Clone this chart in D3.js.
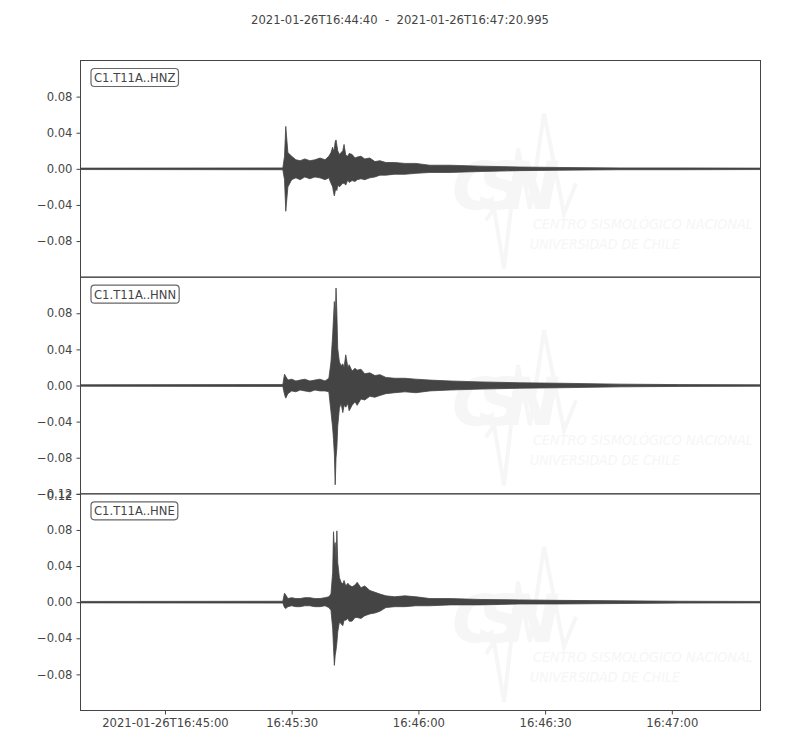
<!DOCTYPE html>
<html>
<head>
<meta charset="utf-8">
<script src="https://cdn.jsdelivr.net/npm/d3@7"></script>
<style>
  body { margin: 0; background: #fff; }
  text { font-family: "DejaVu Sans", sans-serif; }
</style>
</head>
<body>
<div id="chart"></div>
<script>
// envelope of each trace (max / min per time step), seconds after 16:44:40
var startTime = new Date(Date.UTC(2021, 0, 26, 16, 44, 40));
var endSec = 160.995;
var title = "2021-01-26T16:44:40  -  2021-01-26T16:47:20.995";
var channels = ["C1.T11A..HNZ", "C1.T11A..HNN", "C1.T11A..HNE"];

var times = [0, 47.9, 48.3, 48.6, 49.1, 50.0, 51.0, 52.0, 53.1, 54.3, 55.5, 56.7, 57.9, 58.8,
  59.3, 59.7, 59.9, 60.1, 60.3, 60.5, 60.7, 60.9, 61.3, 61.7, 62.1, 62.4, 62.8, 63.3, 63.6,
  64.3, 65.0, 65.5, 66.4, 67.3, 68.5, 69.7, 70.9, 72.3, 74.4, 76.8, 79.4, 82.7, 87.5, 94.6,
  104, 113.5, 127.7, 141.9, 160.995];

var hnzMax = [0.0008, 0.001, 0.014, 0.047, 0.018, 0.014, 0.010, 0.009, 0.011, 0.009, 0.010, 0.012, 0.010, 0.014,
  0.018, 0.024, 0.020, 0.022, 0.030, 0.032, 0.026, 0.020, 0.016, 0.018, 0.020, 0.027, 0.015, 0.014, 0.017,
  0.016, 0.012, 0.013, 0.014, 0.011, 0.012, 0.008, 0.009, 0.007, 0.007, 0.006, 0.006, 0.004, 0.004, 0.003,
  0.002, 0.0015, 0.001, 0.001, 0.0008];
var hnzMin = [-0.0008, -0.001, -0.012, -0.047, -0.020, -0.012, -0.010, -0.012, -0.009, -0.011, -0.009, -0.010, -0.012, -0.010,
  -0.016, -0.020, -0.026, -0.030, -0.025, -0.022, -0.024, -0.018, -0.020, -0.018, -0.016, -0.016, -0.018, -0.012, -0.015,
  -0.013, -0.014, -0.012, -0.011, -0.012, -0.010, -0.009, -0.007, -0.007, -0.006, -0.006, -0.005, -0.004, -0.004, -0.003,
  -0.002, -0.0015, -0.001, -0.001, -0.0008];

var hnnMax = [0.0008, 0.001, 0.0125, 0.010, 0.006, 0.007, 0.005, 0.006, 0.007, 0.005, 0.006, 0.007, 0.005, 0.008,
  0.026, 0.056, 0.075, 0.093, 0.070, 0.108, 0.080, 0.041, 0.026, 0.022, 0.024, 0.020, 0.034, 0.020, 0.023,
  0.016, 0.019, 0.017, 0.018, 0.013, 0.014, 0.011, 0.012, 0.009, 0.008, 0.008, 0.007, 0.006, 0.005, 0.004,
  0.003, 0.0025, 0.0015, 0.001, 0.0008];
var hnnMin = [-0.0008, -0.001, -0.010, -0.014, -0.009, -0.006, -0.007, -0.005, -0.006, -0.007, -0.005, -0.006, -0.006, -0.007,
  -0.029, -0.047, -0.060, -0.076, -0.110, -0.080, -0.069, -0.045, -0.025, -0.020, -0.030, -0.022, -0.024, -0.020, -0.028,
  -0.022, -0.018, -0.022, -0.015, -0.016, -0.012, -0.013, -0.011, -0.009, -0.008, -0.007, -0.008, -0.006, -0.005, -0.004,
  -0.003, -0.0025, -0.0015, -0.001, -0.0008];

var hneMax = [0.0008, 0.001, 0.010, 0.008, 0.004, 0.005, 0.004, 0.004, 0.005, 0.005, 0.004, 0.004, 0.005, 0.006,
  0.009, 0.033, 0.078, 0.060, 0.066, 0.045, 0.079, 0.044, 0.027, 0.022, 0.020, 0.024, 0.018, 0.021, 0.019,
  0.017, 0.019, 0.022, 0.016, 0.018, 0.013, 0.011, 0.009, 0.007, 0.006, 0.007, 0.006, 0.004, 0.004, 0.003,
  0.0025, 0.002, 0.0015, 0.001, 0.0008];
var hneMin = [-0.0008, -0.001, -0.006, -0.007, -0.005, -0.004, -0.005, -0.005, -0.004, -0.004, -0.005, -0.005, -0.004, -0.006,
  -0.009, -0.029, -0.050, -0.070, -0.059, -0.053, -0.045, -0.033, -0.022, -0.024, -0.026, -0.020, -0.020, -0.018, -0.021,
  -0.021, -0.017, -0.017, -0.018, -0.015, -0.013, -0.012, -0.010, -0.006, -0.005, -0.005, -0.004, -0.004, -0.003, -0.003,
  -0.002, -0.002, -0.0015, -0.001, -0.0008];

var yTicksPerPanel = [
  [-0.08, -0.04, 0, 0.04, 0.08],
  [-0.12, -0.08, -0.04, 0, 0.04, 0.08],
  [-0.08, -0.04, 0, 0.04, 0.08, 0.12]
];
var xTickTimes = ["16:45:00", "16:45:30", "16:46:00", "16:46:30", "16:47:00"];

var traces = [
  { name: channels[0], max: hnzMax, min: hnzMin },
  { name: channels[1], max: hnnMax, min: hnnMin },
  { name: channels[2], max: hneMax, min: hneMin }
];

var width = 800, height = 750;
var plotLeft = 80.5, plotRight = 760.5, plotTop = 60.5, plotBottom = 710.5;
var panelH = (plotBottom - plotTop) / 3;
var ink = "#444";

var svg = d3.select("#chart").append("svg")
  .attr("width", width)
  .attr("height", height);

svg.append("text")
  .attr("x", 400)
  .attr("y", 24)
  .attr("text-anchor", "middle")
  .attr("font-size", "11.6px")
  .attr("fill", ink)
  .attr("xml:space", "preserve")
  .style("white-space", "pre")
  .text(title);

var x = d3.scaleUtc()
  .domain([startTime, new Date(startTime.getTime() + endSec * 1000)])
  .range([plotLeft, plotRight]);

var yFmt = d3.format(".2f");

traces.forEach(function (tr, i) {
  var py = plotTop + i * panelH;
  var y = d3.scaleLinear().domain([-0.12, 0.12]).range([py + panelH, py]);
  var g = svg.append("g");

  // faint CSN watermark
  var wm = g.append("g").attr("fill", "#f6f6f6").attr("font-style", "italic");
  wm.append("text").attr("x", 452).attr("y", py + 148).attr("font-size", "66px")
    .attr("font-weight", "bold").attr("textLength", 108).text("CSN");
  wm.append("path")
    .attr("d", "M486," + (py + 160) + " l8,-12 l10,60 l14,-120 l12,60 l14,-95 l20,100 l12,-30")
    .attr("fill", "none").attr("stroke", "#f6f6f6").attr("stroke-width", 4);
  wm.append("text").attr("x", 533).attr("y", py + 168).attr("font-size", "14px")
    .attr("textLength", 220).attr("lengthAdjust", "spacingAndGlyphs")
    .text("CENTRO SISMOLÓGICO NACIONAL");
  wm.append("text").attr("x", 530).attr("y", py + 188).attr("font-size", "14px")
    .attr("textLength", 150).attr("lengthAdjust", "spacingAndGlyphs")
    .text("UNIVERSIDAD DE CHILE");

  var pts = times.map(function (t, k) {
    return { t: new Date(startTime.getTime() + t * 1000), hi: tr.max[k], lo: tr.min[k] };
  });

  var area = d3.area()
    .x(function (d) { return x(d.t); })
    .y0(function (d) { return y(d.lo); })
    .y1(function (d) { return y(d.hi); });

  g.append("path")
    .datum(pts)
    .attr("d", area)
    .attr("fill", ink)
    .attr("stroke", ink)
    .attr("stroke-width", 0.8);

  // frame
  g.append("rect")
    .attr("x", plotLeft).attr("y", py)
    .attr("width", plotRight - plotLeft).attr("height", panelH)
    .attr("fill", "none").attr("stroke", ink).attr("stroke-width", 1);

  var yAxis = d3.axisLeft(y)
    .tickValues(yTicksPerPanel[i])
    .tickFormat(yFmt)
    .tickSize(4)
    .tickPadding(4);
  var ya = g.append("g").attr("transform", "translate(" + plotLeft + ",0)").call(yAxis);
  ya.select(".domain").remove();
  ya.selectAll("line").attr("stroke", ink);
  ya.selectAll("text").attr("fill", ink).attr("font-size", "11.6px")
    .attr("font-family", "DejaVu Sans, sans-serif");
  // the top label of the last panel sits a touch lower than the one above it
  ya.selectAll(".tick").filter(function (d) { return d === 0.12; })
    .select("text").attr("dy", "0.5em");

  // channel label box
  var lab = g.append("g");
  var lt = lab.append("text")
    .attr("x", 94).attr("y", py + 21.5)
    .attr("font-size", "11.6px").attr("fill", ink)
    .text(tr.name);
  var bb = lt.node().getBBox();
  lab.insert("rect", "text")
    .attr("x", bb.x - 3).attr("y", py + 8)
    .attr("width", bb.width + 6).attr("height", 18)
    .attr("rx", 3.5)
    .attr("fill", "#fff").attr("stroke", "#666").attr("stroke-width", 1.2);
});

var xTicks = xTickTimes.map(function (s) {
  return new Date("2021-01-26T" + s + "Z");
});
var xAxis = d3.axisBottom(x)
  .tickValues(xTicks)
  .tickSize(4)
  .tickPadding(4)
  .tickFormat(function (d, k) {
    var s = d3.utcFormat("%H:%M:%S")(d);
    return k === 0 ? d3.utcFormat("%Y-%m-%dT")(d) + s : s;
  });
var xa = svg.append("g").attr("transform", "translate(0," + plotBottom + ")").call(xAxis);
xa.select(".domain").remove();
xa.selectAll("line").attr("stroke", ink);
xa.selectAll("text").attr("fill", ink).attr("font-size", "11.6px")
  .attr("font-family", "DejaVu Sans, sans-serif");
</script>
</body>
</html>
